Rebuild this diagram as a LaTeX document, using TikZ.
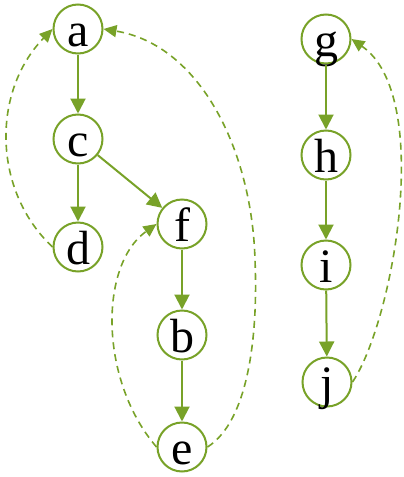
\documentclass[tikz,border=0pt]{standalone}
\usepackage{fontspec}
\setmainfont{Liberation Serif}
\usetikzlibrary{arrows.meta}
\definecolor{gr}{RGB}{120,162,40}
\begin{document}
\begin{tikzpicture}[x=1pt,y=-1pt,
  vtx/.style={circle,draw=gr,line width=2pt,fill=white,minimum size=49pt,inner sep=0pt,
    text height=34pt,text depth=0pt,font=\fontsize{48}{48}\selectfont},
  solidarr/.style={draw=gr,line width=2pt,-{Triangle[length=15pt,width=15pt]}},
  dasharr/.style={draw=gr,line width=1.6pt,dash pattern=on 7pt off 5pt,-{Triangle[length=13pt,width=12pt]}}]
\useasboundingbox (0,0) rectangle (404,477);
\node[vtx] (a) at (78,29) {a};
\node[vtx] (c) at (78,139) {c};
\node[vtx] (d) at (78,247) {d};
\node[vtx] (f) at (182,224) {f};
\node[vtx] (b) at (182,335) {b};
\node[vtx] (e) at (182,447) {e};
\node[vtx] (g) at (326,39) {g};
\node[vtx] (h) at (326,155) {h};
\node[vtx] (i) at (326,265) {i};
\node[vtx] (j) at (327,382) {j};
\draw[solidarr] (a) -- (c);
\draw[solidarr] (c) -- (d);
\draw[solidarr] (c) -- (f);
\draw[solidarr] (f) -- (b);
\draw[solidarr] (b) -- (e);
\draw[solidarr] (g) -- (h);
\draw[solidarr] (h) -- (i);
\draw[solidarr] (i) -- (j);
\draw[dasharr] (d.west) .. controls (-8,190) and (-8,91) .. (a.west);
\draw[dasharr] (e.east) .. controls (250,420) and (258,330) .. (255,260) .. controls (252,150) and (200,45) .. (a.east);
\draw[dasharr] (e.west) .. controls (99,380) and (99,265) .. (f.west);
\draw[dasharr] (j.east) .. controls (393,322) and (434,96) .. (g.east);
\end{tikzpicture}
\end{document}
